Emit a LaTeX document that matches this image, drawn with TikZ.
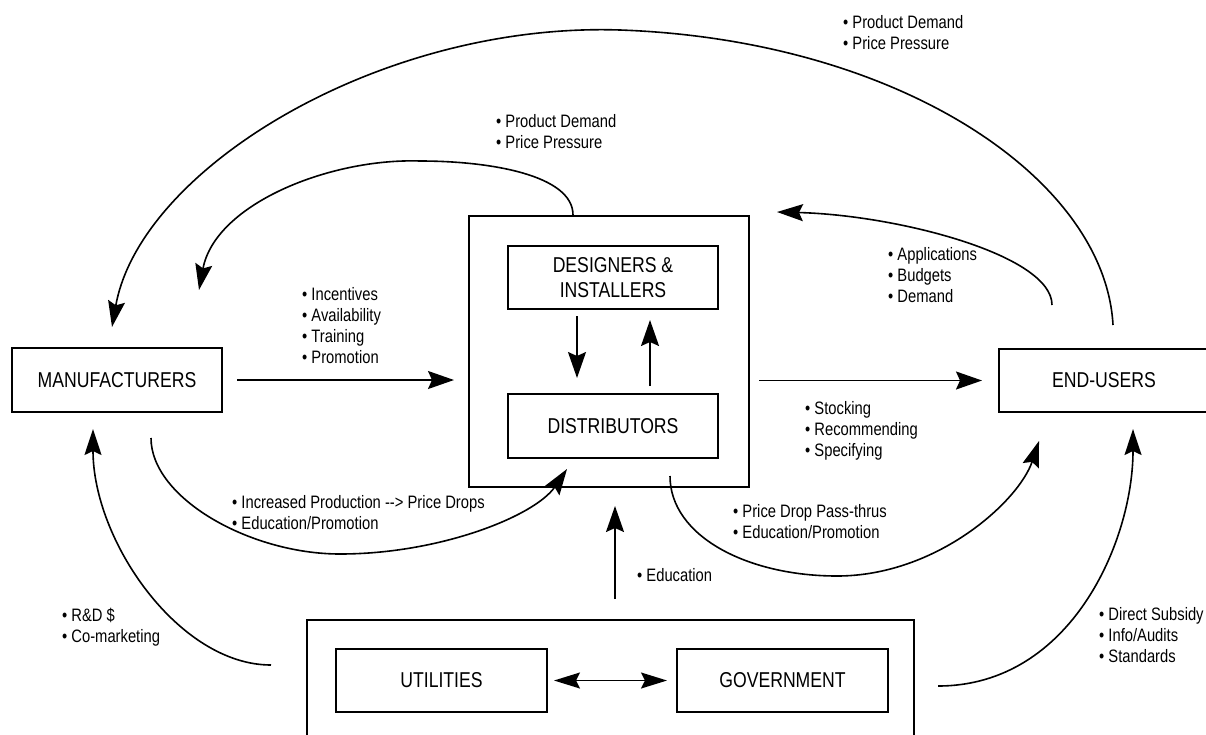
\documentclass[tikz,border=0pt]{standalone}
\usepackage{fontspec}
\setmainfont{Liberation Sans}[FakeStretch=0.82]
\usetikzlibrary{arrows.meta,calc}

% text sizes for the bullet notes and the box titles
\newcommand\notefont{\fontsize{18}{21.3}\selectfont}
\newcommand\titlefont{\fontsize{21.5}{25}\selectfont}
% a left-aligned list whose baseline is the first line
\newcommand\pointlist[1]{\begin{tabular}[t]{@{}l@{}}#1\end{tabular}}

\begin{document}
\begin{tikzpicture}[x=1pt,y=-1pt,
  box/.style={draw, line width=2pt, font=\titlefont, align=center, inner sep=0pt},
  note/.style={anchor=base west, inner sep=0pt, font=\notefont},
  flow/.style={line width=1.7pt, -{Stealth[length=26pt,width=18pt,inset=4pt]}},
  twoway/.style={line width=1.7pt, {Stealth[length=26pt,width=16pt,inset=4pt]}-{Stealth[length=26pt,width=16pt,inset=4pt]}},
  curve/.style={line width=1.6pt, -{Stealth[length=26pt,width=17pt,inset=4pt]}}]

\useasboundingbox (0,0) rectangle (1206,734);

% ---- boxes ----
\node[box, minimum width=210pt, minimum height=64pt] (man) at (117,380) {MANUFACTURERS};
\node[box, minimum width=280pt, minimum height=271pt] (hub) at (609,351.5) {};
\node[box, minimum width=210pt, minimum height=63pt] (dzn) at (613,277.5) {DESIGNERS \&\\INSTALLERS};
\node[box, minimum width=210pt, minimum height=64pt] (dist) at (613,426) {DISTRIBUTORS};
\node[box, minimum width=210pt, minimum height=63pt] (endu) at (1104,380.5) {END-USERS};
\node[box, minimum width=607pt, minimum height=150pt] (agency) at (610.5,695) {};
\node[box, minimum width=211pt, minimum height=63pt] (util) at (441.5,680.5) {UTILITIES};
\node[box, minimum width=211pt, minimum height=63pt] (gov) at (782.5,680.5) {GOVERNMENT};

% ---- straight connectors ----
\draw[flow] ($(man.east)+(14,0)$) -- ($(hub.west |- man.east)+(-14,0)$);
\draw[flow] ($(hub.east |- endu.west)+(9,0)$) -- ($(endu.west)+(-16,0)$);
\draw[flow] ($(dzn.south)+(-36,6)$) -- ($(dist.north)+(-36,-15)$);
\draw[flow] ($(dist.north)+(37,-7)$) -- ($(dzn.south)+(37,10)$);
\draw[flow] ($(agency.north)+(4.5,-20)$) -- ($(hub.south)+(6,18)$);
\draw[twoway] ($(util.east)+(6,0)$) -- ($(gov.west)+(-9,0)$);

% ---- curved connectors ----
\coordinate (outerTop) at (620,30);
\coordinate (innerTop) at (420,161);
\coordinate (lowLeft) at (340,554);
\coordinate (lowRight) at (837,576);

\draw[curve] ($(endu.north)+(9,-23)$) .. controls +(-8,-146) and +(280,10) .. (outerTop)
  .. controls +(-240,-8) and +(28,-158) .. ($(man.north)+(-5,-20)$);
\draw[curve] ($(hub.north)+(-36,0)$) .. controls +(0,-40) and +(70,0) .. (innerTop)
  .. controls +(-90,-3) and +(16,-86) .. ($(man.north)+(82,-57)$);
\draw[curve] ($(endu.north)+(-52,-43)$) .. controls +(0,-50) and +(120,3) .. ($(hub.north east)+(27,-3)$);
\draw[curve] ($(man.south)+(34,25)$) .. controls +(0,60) and +(-90,0) .. (lowLeft)
  .. controls +(100,0) and +(-32,47) .. ($(dist.south)+(-46,10)$);
\draw[curve] ($(dist.south)+(57,17)$) .. controls +(0,60) and +(-90,0) .. (lowRight)
  .. controls +(100,0) and +(-20,60) .. ($(endu.south)+(-65,28)$);
\draw[curve] ($(agency.north east)+(23,67)$) .. controls +(133,0) and +(0,112) .. ($(endu.south)+(29,16)$);
\draw[curve] ($(agency.north west)+(-35,46)$) .. controls +(-92,0) and +(0,112) .. ($(man.south)+(-24,16)$);

% ---- notes ----
\node[note] (nOuter) at (843,28) {\pointlist{• Product Demand\\• Price Pressure}};
\node[note] (nInner) at (496,127) {\pointlist{• Product Demand\\• Price Pressure}};
\node[note] (nSupply) at (302,300) {\pointlist{• Incentives\\• Availability\\• Training\\• Promotion}};
\node[note] (nNeeds) at (888,260) {\pointlist{• Applications\\• Budgets\\• Demand}};
\node[note] (nChannel) at (805,414) {\pointlist{• Stocking\\• Recommending\\• Specifying}};
\node[note] (nPass) at (733,517) {\pointlist{• Price Drop Pass-thrus\\• Education/Promotion}};
\node[note] (nEdu) at (637,581) {\pointlist{• Education}};
\node[note] (nProd) at (232,508) {\pointlist{• Increased Production -\kern0pt-\kern0pt> Price Drops\\• Education/Promotion}};
\node[note] (nRD) at (62,621) {\pointlist{• R\&D \$\\• Co-marketing}};
\node[note] (nGov) at (1099,620) {\pointlist{• Direct Subsidy\\• Info/Audits\\• Standards}};

\end{tikzpicture}
\end{document}
